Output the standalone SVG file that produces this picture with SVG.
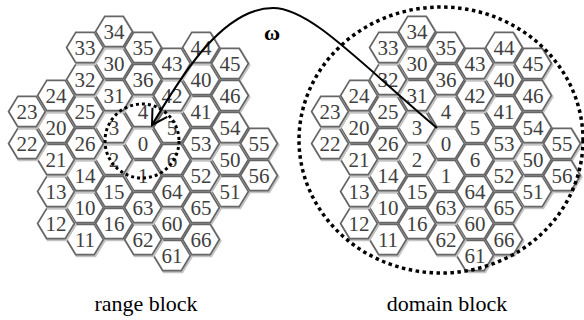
<svg xmlns="http://www.w3.org/2000/svg" xmlns:xlink="http://www.w3.org/1999/xlink" width="584" height="320" viewBox="0 0 584 320">
  <style>
    .cell-shadow { fill: none; stroke: #c4c4c4; stroke-width: 2.4; }
    .cell { fill: #ffffff; stroke: #666666; stroke-width: 1.7; }
    .num { font-family: "Liberation Serif", "Times New Roman", serif; font-size: 21px; fill: #404040; text-anchor: middle; }
    .dots { fill: none; stroke: #000; stroke-linecap: butt; }
    .caption { font-family: "Liberation Serif", "Times New Roman", serif; font-size: 22px; fill: #000; text-anchor: middle; }
    .omega { font-family: "Liberation Serif", "Times New Roman", serif; font-size: 22px; font-weight: bold; fill: #000; text-anchor: middle; }
  </style>
  <defs>
    <!-- one hexagonal cell, flat top, centred on the origin -->
    <path id="hex" d="M-18.4,0 L-9.2,-15.2 L9.2,-15.2 L18.4,0 L9.2,15.2 L-9.2,15.2 Z"/>
    <g id="cell">
      <use xlink:href="#hex" class="cell-shadow" transform="translate(1,1.4)"/>
      <use xlink:href="#hex" class="cell"/>
    </g>
    <marker id="open-head" markerWidth="20" markerHeight="20" refX="18" refY="10" orient="auto" markerUnits="userSpaceOnUse" overflow="visible">
      <path d="M3,1.3 L18,10 L3,18.7" fill="none" stroke="#000" stroke-width="2"/>
    </marker>
  </defs>

  <!-- left lattice: spiral addressing, 7 super-cells of 7 cells -->
  <g id="range-lattice" transform="translate(143,143.5)">
    <g id="r0"><use xlink:href="#cell" x="0" y="0"/><text class="num" x="0" y="7">0</text></g>
    <g id="r1"><use xlink:href="#cell" x="0" y="32"/><text class="num" x="0" y="39">1</text></g>
    <g id="r2"><use xlink:href="#cell" x="-29" y="16"/><text class="num" x="-29" y="23">2</text></g>
    <g id="r3"><use xlink:href="#cell" x="-29" y="-16"/><text class="num" x="-29" y="-9">3</text></g>
    <g id="r4"><use xlink:href="#cell" x="0" y="-32"/><text class="num" x="0" y="-25">4</text></g>
    <g id="r5"><use xlink:href="#cell" x="29" y="-16"/><text class="num" x="29" y="-9">5</text></g>
    <g id="r6"><use xlink:href="#cell" x="29" y="16"/><text class="num" x="29" y="23">6</text></g>

    <g id="r10"><use xlink:href="#cell" x="-58" y="64"/><text class="num" x="-58" y="71">10</text></g>
    <g id="r11"><use xlink:href="#cell" x="-58" y="96"/><text class="num" x="-58" y="103">11</text></g>
    <g id="r12"><use xlink:href="#cell" x="-87" y="80"/><text class="num" x="-87" y="87">12</text></g>
    <g id="r13"><use xlink:href="#cell" x="-87" y="48"/><text class="num" x="-87" y="55">13</text></g>
    <g id="r14"><use xlink:href="#cell" x="-58" y="32"/><text class="num" x="-58" y="39">14</text></g>
    <g id="r15"><use xlink:href="#cell" x="-29" y="48"/><text class="num" x="-29" y="55">15</text></g>
    <g id="r16"><use xlink:href="#cell" x="-29" y="80"/><text class="num" x="-29" y="87">16</text></g>

    <g id="r20"><use xlink:href="#cell" x="-87" y="-16"/><text class="num" x="-87" y="-9">20</text></g>
    <g id="r21"><use xlink:href="#cell" x="-87" y="16"/><text class="num" x="-87" y="23">21</text></g>
    <g id="r22"><use xlink:href="#cell" x="-116" y="0"/><text class="num" x="-116" y="7">22</text></g>
    <g id="r23"><use xlink:href="#cell" x="-116" y="-32"/><text class="num" x="-116" y="-25">23</text></g>
    <g id="r24"><use xlink:href="#cell" x="-87" y="-48"/><text class="num" x="-87" y="-41">24</text></g>
    <g id="r25"><use xlink:href="#cell" x="-58" y="-32"/><text class="num" x="-58" y="-25">25</text></g>
    <g id="r26"><use xlink:href="#cell" x="-58" y="0"/><text class="num" x="-58" y="7">26</text></g>

    <g id="r30"><use xlink:href="#cell" x="-29" y="-80"/><text class="num" x="-29" y="-73">30</text></g>
    <g id="r31"><use xlink:href="#cell" x="-29" y="-48"/><text class="num" x="-29" y="-41">31</text></g>
    <g id="r32"><use xlink:href="#cell" x="-58" y="-64"/><text class="num" x="-58" y="-57">32</text></g>
    <g id="r33"><use xlink:href="#cell" x="-58" y="-96"/><text class="num" x="-58" y="-89">33</text></g>
    <g id="r34"><use xlink:href="#cell" x="-29" y="-112"/><text class="num" x="-29" y="-105">34</text></g>
    <g id="r35"><use xlink:href="#cell" x="0" y="-96"/><text class="num" x="0" y="-89">35</text></g>
    <g id="r36"><use xlink:href="#cell" x="0" y="-64"/><text class="num" x="0" y="-57">36</text></g>

    <g id="r40"><use xlink:href="#cell" x="58" y="-64"/><text class="num" x="58" y="-57">40</text></g>
    <g id="r41"><use xlink:href="#cell" x="58" y="-32"/><text class="num" x="58" y="-25">41</text></g>
    <g id="r42"><use xlink:href="#cell" x="29" y="-48"/><text class="num" x="29" y="-41">42</text></g>
    <g id="r43"><use xlink:href="#cell" x="29" y="-80"/><text class="num" x="29" y="-73">43</text></g>
    <g id="r44"><use xlink:href="#cell" x="58" y="-96"/><text class="num" x="58" y="-89">44</text></g>
    <g id="r45"><use xlink:href="#cell" x="87" y="-80"/><text class="num" x="87" y="-73">45</text></g>
    <g id="r46"><use xlink:href="#cell" x="87" y="-48"/><text class="num" x="87" y="-41">46</text></g>

    <g id="r50"><use xlink:href="#cell" x="87" y="16"/><text class="num" x="87" y="23">50</text></g>
    <g id="r51"><use xlink:href="#cell" x="87" y="48"/><text class="num" x="87" y="55">51</text></g>
    <g id="r52"><use xlink:href="#cell" x="58" y="32"/><text class="num" x="58" y="39">52</text></g>
    <g id="r53"><use xlink:href="#cell" x="58" y="0"/><text class="num" x="58" y="7">53</text></g>
    <g id="r54"><use xlink:href="#cell" x="87" y="-16"/><text class="num" x="87" y="-9">54</text></g>
    <g id="r55"><use xlink:href="#cell" x="116" y="0"/><text class="num" x="116" y="7">55</text></g>
    <g id="r56"><use xlink:href="#cell" x="116" y="32"/><text class="num" x="116" y="39">56</text></g>

    <g id="r60"><use xlink:href="#cell" x="29" y="80"/><text class="num" x="29" y="87">60</text></g>
    <g id="r61"><use xlink:href="#cell" x="29" y="112"/><text class="num" x="29" y="119">61</text></g>
    <g id="r62"><use xlink:href="#cell" x="0" y="96"/><text class="num" x="0" y="103">62</text></g>
    <g id="r63"><use xlink:href="#cell" x="0" y="64"/><text class="num" x="0" y="71">63</text></g>
    <g id="r64"><use xlink:href="#cell" x="29" y="48"/><text class="num" x="29" y="55">64</text></g>
    <g id="r65"><use xlink:href="#cell" x="58" y="64"/><text class="num" x="58" y="71">65</text></g>
    <g id="r66"><use xlink:href="#cell" x="58" y="96"/><text class="num" x="58" y="103">66</text></g>
  </g>

  <!-- right lattice: same addressing -->
  <g id="domain-lattice" transform="translate(446,143.5)">
    <g id="d0"><use xlink:href="#cell" x="0" y="0"/><text class="num" x="0" y="7">0</text></g>
    <g id="d1"><use xlink:href="#cell" x="0" y="32"/><text class="num" x="0" y="39">1</text></g>
    <g id="d2"><use xlink:href="#cell" x="-29" y="16"/><text class="num" x="-29" y="23">2</text></g>
    <g id="d3"><use xlink:href="#cell" x="-29" y="-16"/><text class="num" x="-29" y="-9">3</text></g>
    <g id="d4"><use xlink:href="#cell" x="0" y="-32"/><text class="num" x="0" y="-25">4</text></g>
    <g id="d5"><use xlink:href="#cell" x="29" y="-16"/><text class="num" x="29" y="-9">5</text></g>
    <g id="d6"><use xlink:href="#cell" x="29" y="16"/><text class="num" x="29" y="23">6</text></g>

    <g id="d10"><use xlink:href="#cell" x="-58" y="64"/><text class="num" x="-58" y="71">10</text></g>
    <g id="d11"><use xlink:href="#cell" x="-58" y="96"/><text class="num" x="-58" y="103">11</text></g>
    <g id="d12"><use xlink:href="#cell" x="-87" y="80"/><text class="num" x="-87" y="87">12</text></g>
    <g id="d13"><use xlink:href="#cell" x="-87" y="48"/><text class="num" x="-87" y="55">13</text></g>
    <g id="d14"><use xlink:href="#cell" x="-58" y="32"/><text class="num" x="-58" y="39">14</text></g>
    <g id="d15"><use xlink:href="#cell" x="-29" y="48"/><text class="num" x="-29" y="55">15</text></g>
    <g id="d16"><use xlink:href="#cell" x="-29" y="80"/><text class="num" x="-29" y="87">16</text></g>

    <g id="d20"><use xlink:href="#cell" x="-87" y="-16"/><text class="num" x="-87" y="-9">20</text></g>
    <g id="d21"><use xlink:href="#cell" x="-87" y="16"/><text class="num" x="-87" y="23">21</text></g>
    <g id="d22"><use xlink:href="#cell" x="-116" y="0"/><text class="num" x="-116" y="7">22</text></g>
    <g id="d23"><use xlink:href="#cell" x="-116" y="-32"/><text class="num" x="-116" y="-25">23</text></g>
    <g id="d24"><use xlink:href="#cell" x="-87" y="-48"/><text class="num" x="-87" y="-41">24</text></g>
    <g id="d25"><use xlink:href="#cell" x="-58" y="-32"/><text class="num" x="-58" y="-25">25</text></g>
    <g id="d26"><use xlink:href="#cell" x="-58" y="0"/><text class="num" x="-58" y="7">26</text></g>

    <g id="d30"><use xlink:href="#cell" x="-29" y="-80"/><text class="num" x="-29" y="-73">30</text></g>
    <g id="d31"><use xlink:href="#cell" x="-29" y="-48"/><text class="num" x="-29" y="-41">31</text></g>
    <g id="d32"><use xlink:href="#cell" x="-58" y="-64"/><text class="num" x="-58" y="-57">32</text></g>
    <g id="d33"><use xlink:href="#cell" x="-58" y="-96"/><text class="num" x="-58" y="-89">33</text></g>
    <g id="d34"><use xlink:href="#cell" x="-29" y="-112"/><text class="num" x="-29" y="-105">34</text></g>
    <g id="d35"><use xlink:href="#cell" x="0" y="-96"/><text class="num" x="0" y="-89">35</text></g>
    <g id="d36"><use xlink:href="#cell" x="0" y="-64"/><text class="num" x="0" y="-57">36</text></g>

    <g id="d40"><use xlink:href="#cell" x="58" y="-64"/><text class="num" x="58" y="-57">40</text></g>
    <g id="d41"><use xlink:href="#cell" x="58" y="-32"/><text class="num" x="58" y="-25">41</text></g>
    <g id="d42"><use xlink:href="#cell" x="29" y="-48"/><text class="num" x="29" y="-41">42</text></g>
    <g id="d43"><use xlink:href="#cell" x="29" y="-80"/><text class="num" x="29" y="-73">43</text></g>
    <g id="d44"><use xlink:href="#cell" x="58" y="-96"/><text class="num" x="58" y="-89">44</text></g>
    <g id="d45"><use xlink:href="#cell" x="87" y="-80"/><text class="num" x="87" y="-73">45</text></g>
    <g id="d46"><use xlink:href="#cell" x="87" y="-48"/><text class="num" x="87" y="-41">46</text></g>

    <g id="d50"><use xlink:href="#cell" x="87" y="16"/><text class="num" x="87" y="23">50</text></g>
    <g id="d51"><use xlink:href="#cell" x="87" y="48"/><text class="num" x="87" y="55">51</text></g>
    <g id="d52"><use xlink:href="#cell" x="58" y="32"/><text class="num" x="58" y="39">52</text></g>
    <g id="d53"><use xlink:href="#cell" x="58" y="0"/><text class="num" x="58" y="7">53</text></g>
    <g id="d54"><use xlink:href="#cell" x="87" y="-16"/><text class="num" x="87" y="-9">54</text></g>
    <g id="d55"><use xlink:href="#cell" x="116" y="0"/><text class="num" x="116" y="7">55</text></g>
    <g id="d56"><use xlink:href="#cell" x="116" y="32"/><text class="num" x="116" y="39">56</text></g>

    <g id="d60"><use xlink:href="#cell" x="29" y="80"/><text class="num" x="29" y="87">60</text></g>
    <g id="d61"><use xlink:href="#cell" x="29" y="112"/><text class="num" x="29" y="119">61</text></g>
    <g id="d62"><use xlink:href="#cell" x="0" y="96"/><text class="num" x="0" y="103">62</text></g>
    <g id="d63"><use xlink:href="#cell" x="0" y="64"/><text class="num" x="0" y="71">63</text></g>
    <g id="d64"><use xlink:href="#cell" x="29" y="48"/><text class="num" x="29" y="55">64</text></g>
    <g id="d65"><use xlink:href="#cell" x="58" y="64"/><text class="num" x="58" y="71">65</text></g>
    <g id="d66"><use xlink:href="#cell" x="58" y="96"/><text class="num" x="58" y="103">66</text></g>
  </g>

  <!-- dotted block outlines -->
  <g id="range-block">
    <circle class="dots" cx="142" cy="141" r="37" stroke-width="3" stroke-dasharray="3 3"/>
  </g>
  <g id="domain-block">
    <ellipse class="dots" cx="441" cy="140" rx="142" ry="133" stroke-width="3.5" stroke-dasharray="3.5 3.5"/>
  </g>

  <!-- mapping arrow from domain to range -->
  <g id="connectors">
    <path d="M437,128 C359,62 310,8 273,8 C218,8 173,91 152,125" fill="none" stroke="#000" stroke-width="2" marker-end="url(#open-head)"/>
    <text class="omega" x="272" y="40">ω</text>
  </g>

  <text class="caption" x="146" y="311">range block</text>
  <text class="caption" x="447" y="311">domain block</text>
</svg>
